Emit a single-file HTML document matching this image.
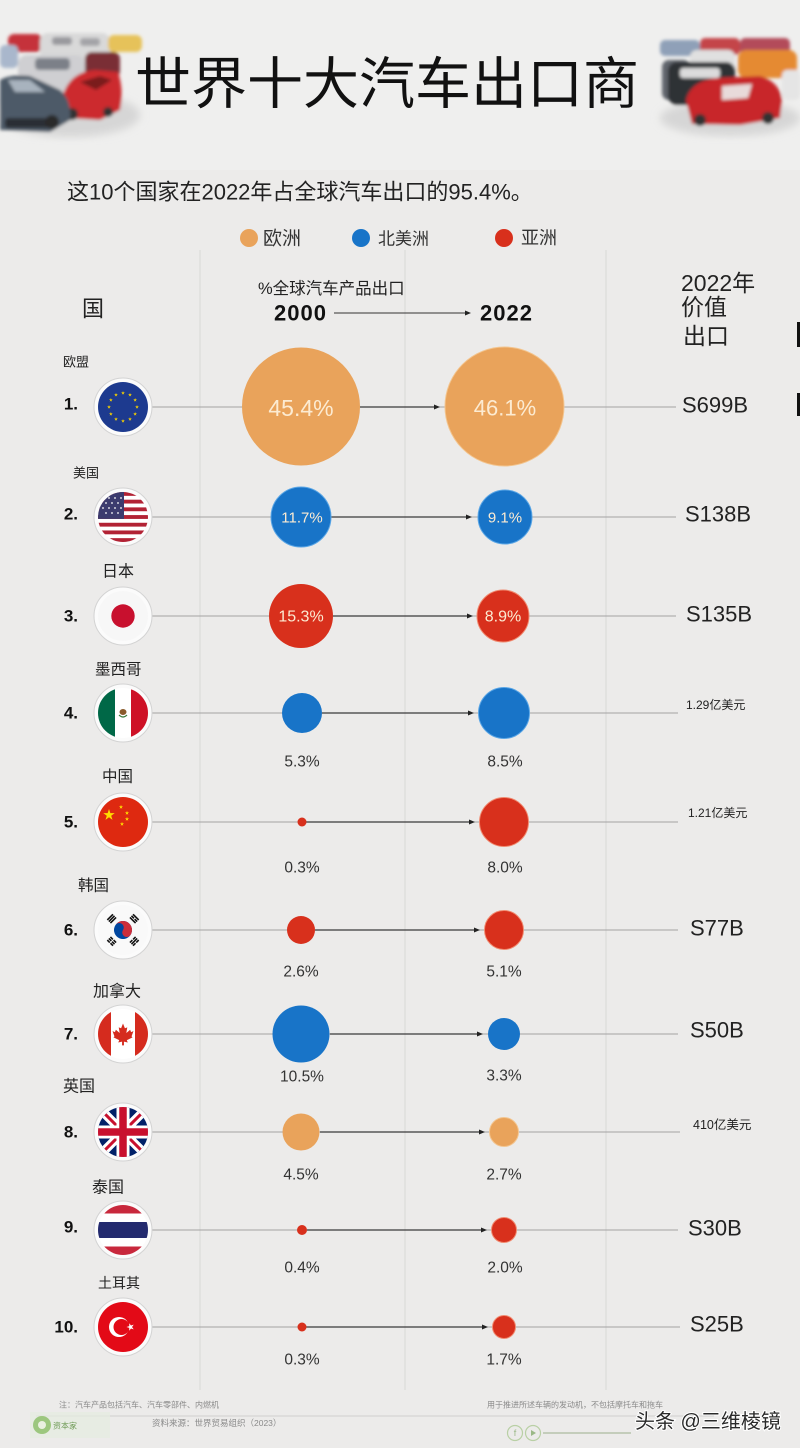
<!DOCTYPE html>
<html><head><meta charset="utf-8"><style>
html,body{margin:0;padding:0;background:#ecebea;}
svg{display:block;}
text{font-family:"Liberation Sans","Noto Sans CJK SC",sans-serif;}
</style></head><body>
<svg width="800" height="1448" viewBox="0 0 800 1448" xmlns="http://www.w3.org/2000/svg">
<defs>
<polygon id="star" points="0,-1 0.2245,-0.309 0.9511,-0.309 0.3633,0.118 0.5878,0.809 0,0.382 -0.5878,0.809 -0.3633,0.118 -0.9511,-0.309 -0.2245,-0.309"/>
<clipPath id="fc"><circle cx="0" cy="0" r="25"/></clipPath>
<filter id="bl" x="-10%" y="-10%" width="120%" height="120%"><feGaussianBlur stdDeviation="1.6"/></filter>
<filter id="bl2"><feGaussianBlur stdDeviation="4"/></filter>
</defs>
<rect width="800" height="1448" fill="#ecebea"/>
<rect width="800" height="170" fill="#efefee"/>

<!-- vertical faint lines -->
<line x1="200" y1="250" x2="200" y2="1390" stroke="#dfdfdd" stroke-width="1.5"/>
<line x1="405" y1="250" x2="405" y2="1390" stroke="#dfdfdd" stroke-width="1.5"/>
<line x1="606" y1="250" x2="606" y2="1390" stroke="#dfdfdd" stroke-width="1.5"/>

<!-- left cars -->
<g filter="url(#bl)">
<ellipse cx="70" cy="115" rx="70" ry="22" fill="#d6d6d6" filter="url(#bl2)"/>
<rect x="8" y="34" width="34" height="18" rx="6" fill="#c5333b"/>
<rect x="40" y="33" width="70" height="27" rx="8" fill="#d9d9d9"/>
<rect x="52" y="37" width="20" height="8" rx="3" fill="#9a9a9e"/>
<rect x="80" y="38" width="20" height="8" rx="3" fill="#a4a4a8"/>
<rect x="108" y="35" width="34" height="17" rx="6" fill="#e6c25a"/>
<rect x="0" y="45" width="18" height="23" rx="5" fill="#a9b7cc"/>
<rect x="18" y="55" width="67" height="37" rx="9" fill="#cfcfd2"/>
<rect x="35" y="58" width="35" height="12" rx="4" fill="#7c8088"/>
<rect x="85" y="52" width="35" height="26" rx="7" fill="#7a2e35"/>
<path d="M63,95 Q70,72 95,70 L118,72 Q124,90 120,110 L100,120 L68,118 Z" fill="#cc2a2f"/>
<path d="M80,82 L100,76 L112,80 L96,90 Z" fill="#7a1a1e"/>
<circle cx="72" cy="114" r="6" fill="#333"/>
<circle cx="108" cy="112" r="5" fill="#333"/>
<path d="M0,80 Q10,74 30,76 L60,90 Q72,100 70,120 L50,132 L0,130 Z" fill="#4d5a68"/>
<path d="M8,80 L30,80 L45,92 L15,92 Z" fill="#a8b3be"/>
<rect x="5" y="118" width="50" height="10" rx="3" fill="#2a2f36"/>
<circle cx="52" cy="122" r="7" fill="#2b2b2b"/>
</g>

<!-- right cars -->
<g filter="url(#bl)">
<ellipse cx="730" cy="118" rx="70" ry="18" fill="#d6d6d6" filter="url(#bl2)"/>
<rect x="660" y="40" width="40" height="16" rx="5" fill="#8fa0b8"/>
<rect x="700" y="38" width="40" height="17" rx="5" fill="#c44448"/>
<rect x="740" y="38" width="50" height="17" rx="5" fill="#b34c5a"/>
<rect x="690" y="50" width="45" height="25" rx="7" fill="#e0e0e0"/>
<rect x="662" y="60" width="28" height="40" rx="7" fill="#60656c"/>
<rect x="668" y="62" width="67" height="43" rx="9" fill="#2e3035"/>
<rect x="680" y="68" width="40" height="10" rx="3" fill="#dcdcdc"/>
<rect x="738" y="50" width="59" height="28" rx="8" fill="#e58a30"/>
<rect x="782" y="70" width="18" height="30" rx="5" fill="#e5e5e5"/>
<path d="M686,100 Q690,82 715,78 L760,76 Q780,82 782,100 L780,118 L740,125 L692,124 Z" fill="#c8282c"/>
<path d="M722,86 L752,84 L748,98 L722,100 Z" fill="#e8dada"/>
<circle cx="700" cy="120" r="6" fill="#333"/>
<circle cx="768" cy="118" r="6" fill="#333"/>
</g>

<!-- title -->
<text x="387" y="84" text-anchor="middle" dominant-baseline="central" font-size="56" fill="#111">世界十大汽车出口商</text>
<text x="67" y="192" dominant-baseline="central" font-size="22" fill="#222">这10个国家在2022年占全球汽车出口的95.4%。</text>

<!-- legend -->
<circle cx="249" cy="238" r="9" fill="#e9a35b"/>
<text x="263" y="239" dominant-baseline="central" font-size="19" fill="#333">欧洲</text>
<circle cx="361" cy="238" r="9" fill="#1874c8"/>
<text x="378" y="239" dominant-baseline="central" font-size="17" fill="#333">北美洲</text>
<circle cx="504" cy="238" r="9" fill="#d8301c"/>
<text x="521" y="238" dominant-baseline="central" font-size="18" fill="#333">亚洲</text>

<!-- column headers -->
<text x="82" y="309" dominant-baseline="central" font-size="22" fill="#222">国</text>
<text x="258" y="289" dominant-baseline="central" font-size="16.5" fill="#222">%全球汽车产品出口</text>
<text x="274" y="313" dominant-baseline="central" font-size="22" font-weight="bold" letter-spacing="1" fill="#111">2000</text>
<line x1="334" y1="313" x2="466" y2="313" stroke="#333" stroke-width="1"/>
<polygon points="471,313 465,310.5 465,315.5" fill="#222"/>
<text x="480" y="313" dominant-baseline="central" font-size="22" font-weight="bold" letter-spacing="1" fill="#111">2022</text>
<text x="681" y="283" dominant-baseline="central" font-size="23" fill="#222">2022年</text>
<text x="681" y="307" dominant-baseline="central" font-size="23" fill="#222">价值</text>
<text x="683" y="336" dominant-baseline="central" font-size="23" fill="#222">出口</text>
<rect x="797" y="322" width="3" height="25" fill="#111"/>
<rect x="797" y="393" width="3" height="23" fill="#111"/>

<!-- ROWS: lines -->
<g stroke="#a3a3a3" stroke-width="1">
<line x1="152" y1="407" x2="676" y2="407"/>
<line x1="152" y1="517" x2="676" y2="517"/>
<line x1="152" y1="616" x2="676" y2="616"/>
<line x1="152" y1="713" x2="678" y2="713"/>
<line x1="152" y1="822" x2="678" y2="822"/>
<line x1="152" y1="930" x2="678" y2="930"/>
<line x1="152" y1="1034" x2="678" y2="1034"/>
<line x1="152" y1="1132" x2="680" y2="1132"/>
<line x1="152" y1="1230" x2="678" y2="1230"/>
<line x1="152" y1="1327" x2="680" y2="1327"/>
</g>
<g stroke="#3a3a3a" stroke-width="1.2">
<line x1="360" y1="407" x2="436" y2="407"/>
<line x1="331" y1="517" x2="468" y2="517"/>
<line x1="333" y1="616" x2="468" y2="616"/>
<line x1="322" y1="713" x2="469" y2="713"/>
<line x1="306" y1="822" x2="470" y2="822"/>
<line x1="315" y1="930" x2="475" y2="930"/>
<line x1="330" y1="1034" x2="478" y2="1034"/>
<line x1="320" y1="1132" x2="480" y2="1132"/>
<line x1="307" y1="1230" x2="482" y2="1230"/>
<line x1="306" y1="1327" x2="483" y2="1327"/>
</g>
<g fill="#222">
<polygon points="440,407 434,404.5 434,409.5"/>
<polygon points="472,517 466,514.5 466,519.5"/>
<polygon points="473,616 467,613.5 467,618.5"/>
<polygon points="474,713 468,710.5 468,715.5"/>
<polygon points="475,822 469,819.5 469,824.5"/>
<polygon points="480,930 474,927.5 474,932.5"/>
<polygon points="483,1034 477,1031.5 477,1036.5"/>
<polygon points="485,1132 479,1129.5 479,1134.5"/>
<polygon points="487,1230 481,1227.5 481,1232.5"/>
<polygon points="488,1327 482,1324.5 482,1329.5"/>
</g>

<!-- circles -->
<circle cx="301" cy="406.5" r="59" fill="#e9a35b"/>
<circle cx="504.5" cy="406.5" r="59.5" fill="#e9a35b" stroke="#f3c58f" stroke-width="1"/>
<circle cx="301" cy="517" r="30" fill="#1874c8" stroke="#5aa6e6" stroke-width="1"/>
<circle cx="505" cy="517" r="27" fill="#1874c8" stroke="#5aa6e6" stroke-width="1"/>
<circle cx="301" cy="616" r="32" fill="#d8301c"/>
<circle cx="503" cy="616" r="26" fill="#d8301c" stroke="#f08a70" stroke-width="1"/>
<circle cx="302" cy="713" r="20" fill="#1874c8"/>
<circle cx="504" cy="713" r="25.5" fill="#1874c8" stroke="#5aa6e6" stroke-width="1"/>
<circle cx="302" cy="822" r="4.5" fill="#d8301c"/>
<circle cx="504" cy="822" r="24.5" fill="#d8301c" stroke="#f08a70" stroke-width="1"/>
<circle cx="301" cy="930" r="14" fill="#d8301c"/>
<circle cx="504" cy="930" r="19.5" fill="#d8301c" stroke="#f08a70" stroke-width="1"/>
<circle cx="301" cy="1034" r="28.5" fill="#1874c8"/>
<circle cx="504" cy="1034" r="16" fill="#1874c8"/>
<circle cx="301" cy="1132" r="18.5" fill="#e9a35b"/>
<circle cx="504" cy="1132" r="14.5" fill="#e9a35b" stroke="#f3c58f" stroke-width="1"/>
<circle cx="302" cy="1230" r="5" fill="#d8301c"/>
<circle cx="504" cy="1230" r="12.5" fill="#d8301c" stroke="#f08a70" stroke-width="1"/>
<circle cx="302" cy="1327" r="4.5" fill="#d8301c"/>
<circle cx="504" cy="1327" r="11.5" fill="#d8301c" stroke="#f08a70" stroke-width="1"/>

<!-- in-circle labels -->
<g fill="#fcebd2" text-anchor="middle" dominant-baseline="central">
<text x="301" y="408" font-size="23">45.4%</text>
<text x="505" y="408" font-size="22">46.1%</text>
<text x="302" y="518" font-size="15">11.7%</text>
<text x="505" y="518" font-size="15">9.1%</text>
<text x="301" y="617" font-size="16">15.3%</text>
<text x="503" y="617" font-size="16">8.9%</text>
</g>
<!-- below labels -->
<g fill="#333" text-anchor="middle" dominant-baseline="central" font-size="15.5">
<text x="302" y="762">5.3%</text><text x="505" y="762">8.5%</text>
<text x="302" y="868">0.3%</text><text x="505" y="868">8.0%</text>
<text x="301" y="972">2.6%</text><text x="504" y="972">5.1%</text>
<text x="302" y="1077">10.5%</text><text x="504" y="1076">3.3%</text>
<text x="301" y="1175">4.5%</text><text x="504" y="1175">2.7%</text>
<text x="302" y="1268">0.4%</text><text x="505" y="1268">2.0%</text>
<text x="302" y="1360">0.3%</text><text x="504" y="1360">1.7%</text>
</g>

<!-- value labels -->
<g fill="#222" dominant-baseline="central" font-size="22">
<text x="682" y="405">S699B</text>
<text x="685" y="514">S138B</text>
<text x="686" y="614">S135B</text>
<text x="690" y="928">S77B</text>
<text x="690" y="1030">S50B</text>
<text x="688" y="1228">S30B</text>
<text x="690" y="1324">S25B</text>
</g>
<g fill="#222" dominant-baseline="central" font-size="12">
<text x="686" y="705">1.29亿美元</text>
<text x="688" y="813">1.21亿美元</text>
</g>
<svg x="693" y="1115" width="59" height="20" overflow="hidden"><text x="0" y="10" dominant-baseline="central" font-size="12.5" fill="#222">410亿美元</text></svg>

<!-- ranks -->
<g fill="#111" font-weight="bold" font-size="17" text-anchor="end" dominant-baseline="central">
<text x="78" y="404">1.</text>
<text x="78" y="514">2.</text>
<text x="78" y="616">3.</text>
<text x="78" y="713">4.</text>
<text x="78" y="822">5.</text>
<text x="78" y="930">6.</text>
<text x="78" y="1034">7.</text>
<text x="78" y="1132">8.</text>
<text x="78" y="1227">9.</text>
<text x="78" y="1327">10.</text>
</g>
<!-- country names -->
<g fill="#222" dominant-baseline="central">
<text x="63" y="362" font-size="13">欧盟</text>
<text x="73" y="473" font-size="13">美国</text>
<text x="102" y="572" font-size="16">日本</text>
<text x="95" y="670" font-size="15.5">墨西哥</text>
<text x="102" y="777" font-size="15.5">中国</text>
<text x="78" y="886" font-size="15.5">韩国</text>
<text x="93" y="992" font-size="16">加拿大</text>
<text x="63" y="1087" font-size="16">英国</text>
<text x="92" y="1188" font-size="16">泰国</text>
<text x="98" y="1283" font-size="14">土耳其</text>
</g>

<!-- FLAGS -->
<g transform="translate(123,407)">
<circle r="29" fill="#fbfbfb" stroke="#d3d3d3"/>
<g clip-path="url(#fc)">
<rect x="-25" y="-25" width="50" height="50" fill="#1d3a8f"/>
<g fill="#f5d000">
<use href="#star" transform="translate(0,-14) scale(2)"/>
<use href="#star" transform="translate(7,-12.12) scale(2)"/>
<use href="#star" transform="translate(12.12,-7) scale(2)"/>
<use href="#star" transform="translate(14,0) scale(2)"/>
<use href="#star" transform="translate(12.12,7) scale(2)"/>
<use href="#star" transform="translate(7,12.12) scale(2)"/>
<use href="#star" transform="translate(0,14) scale(2)"/>
<use href="#star" transform="translate(-7,12.12) scale(2)"/>
<use href="#star" transform="translate(-12.12,7) scale(2)"/>
<use href="#star" transform="translate(-14,0) scale(2)"/>
<use href="#star" transform="translate(-12.12,-7) scale(2)"/>
<use href="#star" transform="translate(-7,-12.12) scale(2)"/>
</g></g></g>
<g transform="translate(123,517)">
<circle r="29" fill="#fbfbfb" stroke="#d3d3d3"/>
<g clip-path="url(#fc)">
<rect x="-25" y="-25" width="50" height="50" fill="#fff"/>
<g fill="#b22234">
<rect x="-25" y="-25" width="50" height="3.85"/>
<rect x="-25" y="-17.31" width="50" height="3.85"/>
<rect x="-25" y="-9.62" width="50" height="3.85"/>
<rect x="-25" y="-1.92" width="50" height="3.85"/>
<rect x="-25" y="5.77" width="50" height="3.85"/>
<rect x="-25" y="13.46" width="50" height="3.85"/>
<rect x="-25" y="21.15" width="50" height="3.85"/>
</g>
<rect x="-25" y="-25" width="26" height="26.9" fill="#3c3b6e"/>
<g fill="#fff">
<circle cx="-20" cy="-19" r="0.9"/><circle cx="-14" cy="-19" r="0.9"/><circle cx="-8" cy="-19" r="0.9"/><circle cx="-2" cy="-19" r="0.9"/>
<circle cx="-17" cy="-14" r="0.9"/><circle cx="-11" cy="-14" r="0.9"/><circle cx="-5" cy="-14" r="0.9"/>
<circle cx="-20" cy="-9" r="0.9"/><circle cx="-14" cy="-9" r="0.9"/><circle cx="-8" cy="-9" r="0.9"/><circle cx="-2" cy="-9" r="0.9"/>
<circle cx="-17" cy="-4" r="0.9"/><circle cx="-11" cy="-4" r="0.9"/><circle cx="-5" cy="-4" r="0.9"/>
</g></g></g>
<g transform="translate(123,616)">
<circle r="29" fill="#fbfbfb" stroke="#d3d3d3"/>
<circle r="25" fill="#f7f7f7"/>
<circle r="11.7" fill="#c8102e"/>
</g>
<g transform="translate(123,713)">
<circle r="29" fill="#fbfbfb" stroke="#d3d3d3"/>
<g clip-path="url(#fc)">
<rect x="-25" y="-25" width="17" height="50" fill="#006847"/>
<rect x="-8" y="-25" width="16" height="50" fill="#fff"/>
<rect x="8" y="-25" width="17" height="50" fill="#ce1126"/>
<ellipse cx="0" cy="-1" rx="3.5" ry="3" fill="#8a5a2b"/>
<path d="M-4,2 Q0,6 4,2" stroke="#3a7a3a" stroke-width="1.2" fill="none"/>
</g></g>
<g transform="translate(123,822)">
<circle r="29" fill="#fbfbfb" stroke="#d3d3d3"/>
<g clip-path="url(#fc)">
<rect x="-25" y="-25" width="50" height="50" fill="#de2910"/>
<g fill="#ffde00">
<use href="#star" transform="translate(-14,-7) scale(6)"/>
<use href="#star" transform="translate(-2,-15) scale(2.2)"/>
<use href="#star" transform="translate(4,-9) scale(2.2)"/>
<use href="#star" transform="translate(4,-3) scale(2.2)"/>
<use href="#star" transform="translate(-1,2) scale(2.2)"/>
</g></g></g>
<g transform="translate(123,930)">
<circle r="29" fill="#fbfbfb" stroke="#d3d3d3"/>
<circle r="25" fill="#f9f9f9"/>
<g transform="rotate(33.7)">
<circle r="9" fill="#0047a0"/>
<path d="M-9,0 A9,9 0 0 1 9,0 A4.5,4.5 0 0 1 0,0 A4.5,4.5 0 0 0 -9,0 Z" fill="#cd2e3a"/>
</g>
<g fill="#111">
<g transform="rotate(-45) translate(0,-16)"><rect x="-4" y="-3" width="8" height="1.6"/><rect x="-4" y="-0.8" width="8" height="1.6"/><rect x="-4" y="1.4" width="8" height="1.6"/></g>
<g transform="rotate(45) translate(0,-16)"><rect x="-4" y="-3" width="8" height="1.6"/><rect x="-4" y="-0.8" width="3.5" height="1.6"/><rect x="0.5" y="-0.8" width="3.5" height="1.6"/><rect x="-4" y="1.4" width="8" height="1.6"/></g>
<g transform="rotate(135) translate(0,-16)"><rect x="-4" y="-3" width="3.5" height="1.6"/><rect x="0.5" y="-3" width="3.5" height="1.6"/><rect x="-4" y="-0.8" width="8" height="1.6"/><rect x="-4" y="1.4" width="3.5" height="1.6"/><rect x="0.5" y="1.4" width="3.5" height="1.6"/></g>
<g transform="rotate(-135) translate(0,-16)"><rect x="-4" y="-3" width="3.5" height="1.6"/><rect x="0.5" y="-3" width="3.5" height="1.6"/><rect x="-4" y="-0.8" width="3.5" height="1.6"/><rect x="0.5" y="-0.8" width="3.5" height="1.6"/><rect x="-4" y="1.4" width="3.5" height="1.6"/><rect x="0.5" y="1.4" width="3.5" height="1.6"/></g>
</g></g>
<g transform="translate(123,1034)">
<circle r="29" fill="#fbfbfb" stroke="#d3d3d3"/>
<g clip-path="url(#fc)">
<rect x="-25" y="-25" width="50" height="50" fill="#fff"/>
<rect x="-25" y="-25" width="13" height="50" fill="#d52b1e"/>
<rect x="12" y="-25" width="13" height="50" fill="#d52b1e"/>
<polygon transform="scale(0.95)" points="0,-11 2,-6 4.5,-7 3.5,-1 7.5,-4.5 8.5,-2 11,-3 9,2.5 10,3.5 4,6.5 5,9 1,8 1,12 -1,12 -1,8 -5,9 -4,6.5 -10,3.5 -9,2.5 -11,-3 -8.5,-2 -7.5,-4.5 -3.5,-1 -4.5,-7 -2,-6" fill="#d52b1e"/>
</g></g>
<g transform="translate(123,1132)">
<circle r="29" fill="#fbfbfb" stroke="#d3d3d3"/>
<g clip-path="url(#fc)">
<rect x="-25" y="-25" width="50" height="50" fill="#012169"/>
<path d="M-25,-25 L25,25 M25,-25 L-25,25" stroke="#fff" stroke-width="9"/>
<path d="M-25,-25 L25,25 M25,-25 L-25,25" stroke="#c8102e" stroke-width="3"/>
<path d="M0,-25 V25 M-25,0 H25" stroke="#fff" stroke-width="13"/>
<path d="M0,-25 V25 M-25,0 H25" stroke="#c8102e" stroke-width="7.5"/>
</g></g>
<g transform="translate(123,1230)">
<circle r="29" fill="#fbfbfb" stroke="#d3d3d3"/>
<g clip-path="url(#fc)">
<rect x="-25" y="-25" width="50" height="50" fill="#fff"/>
<rect x="-25" y="-25" width="50" height="8.5" fill="#c8283c"/>
<rect x="-25" y="16.5" width="50" height="8.5" fill="#c8283c"/>
<rect x="-25" y="-8" width="50" height="16" fill="#232a6e"/>
</g></g>
<g transform="translate(123,1327)">
<circle r="29" fill="#fbfbfb" stroke="#d3d3d3"/>
<g clip-path="url(#fc)">
<rect x="-25" y="-25" width="50" height="50" fill="#e30a17"/>
<circle cx="-4" cy="0" r="10" fill="#fff"/>
<circle cx="-1.5" cy="0" r="8" fill="#e30a17"/>
<use href="#star" transform="translate(7.5,0) rotate(-90) scale(4)" fill="#fff"/>
</g></g>

<!-- footer -->
<text x="59" y="1405" dominant-baseline="central" font-size="8" fill="#8a8a8a">注：汽车产品包括汽车、汽车零部件、内燃机</text>
<text x="487" y="1405" dominant-baseline="central" font-size="8" fill="#8a8a8a">用于推进所述车辆的发动机，不包括摩托车和拖车</text>
<line x1="36" y1="1416" x2="714" y2="1416" stroke="#cfcfcf" stroke-width="1"/>
<rect x="30" y="1412" width="80" height="26" fill="#e6ece0" opacity="0.7"/>
<circle cx="42" cy="1425" r="9" fill="#9cc77e"/>
<circle cx="42" cy="1425" r="4" fill="#e9f0e0"/>
<text x="53" y="1426" dominant-baseline="central" font-size="8" fill="#6e9a55">资本家</text>
<text x="152" y="1423" dominant-baseline="central" font-size="8.5" fill="#8a8a8a">资料来源：世界贸易组织（2023）</text>
<circle cx="515" cy="1433" r="7.5" fill="none" stroke="#b9d0a5" stroke-width="1.2"/>
<text x="515" y="1433" text-anchor="middle" dominant-baseline="central" font-size="9" fill="#9ab886">f</text>
<circle cx="533" cy="1433" r="7.5" fill="none" stroke="#b9d0a5" stroke-width="1.2"/>
<polygon points="531,1430 531,1436 536,1433" fill="#9ab886"/>
<rect x="543" y="1432" width="88" height="2" fill="#c4cdbb"/>
<text x="635" y="1422" dominant-baseline="central" font-size="20" fill="#2a2a2a" stroke="#ffffff" stroke-width="2" paint-order="stroke">头条 @三维棱镜</text>
</svg>
</body></html>
